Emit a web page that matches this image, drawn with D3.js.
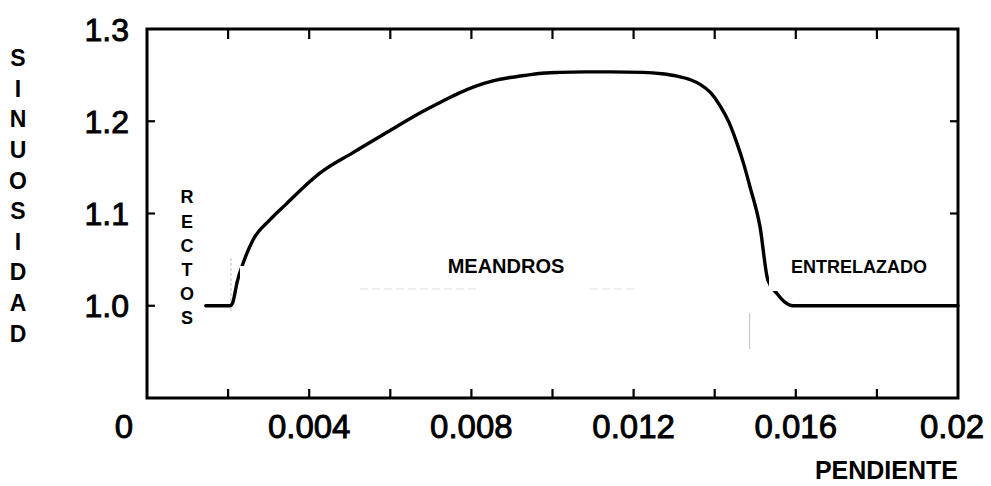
<!DOCTYPE html>
<html>
<head>
<meta charset="utf-8">
<script src="https://cdn.jsdelivr.net/npm/d3@7"></script>
<style>
  html, body { margin: 0; padding: 0; background: #fff; }
  svg { display: block; }
  text { font-family: "Liberation Sans", Arial, Helvetica, sans-serif; fill: #000; }
</style>
</head>
<body>
<svg id="chart" width="991" height="486"></svg>
<script>
// ---- data ----
const slope = [0.00145, 0.00205, 0.00212, 0.00217, 0.00222, 0.00237, 0.00261, 0.00303, 0.00345,
  0.00385, 0.00427, 0.00508, 0.00592, 0.00673, 0.00730, 0.00772, 0.00811, 0.00853, 0.00895, 0.00937,
  0.00981, 0.01018, 0.01080, 0.01142, 0.01223, 0.01270, 0.01307, 0.01340, 0.01364, 0.01390,
  0.01413, 0.01435, 0.01455, 0.01472, 0.01487, 0.01512, 0.01531, 0.01554, 0.01573,
  0.01593, 0.01700, 0.02];
const sinuosity = [1.000, 1.000, 1.004, 1.014, 1.025, 1.046, 1.071, 1.093, 1.111,
  1.128, 1.144, 1.166, 1.188, 1.209, 1.222, 1.231, 1.238, 1.2437, 1.2474, 1.250,
  1.2523, 1.253, 1.2535, 1.2535, 1.253, 1.2515, 1.249, 1.245, 1.240, 1.231,
  1.217, 1.199, 1.176, 1.153, 1.129, 1.085, 1.028, 1.013, 1.004,
  1.000, 1.000, 1.000];
const xTickValues = [0, 0.002, 0.004, 0.006, 0.008, 0.010, 0.012, 0.014, 0.016, 0.018, 0.02];
const xLabelValues = [0, 0.004, 0.008, 0.012, 0.016, 0.02];
const yTickValues = [1.0, 1.1, 1.2, 1.3];
const yLabel = "SINUOSIDAD";
const xLabel = "PENDIENTE";
const regimeNames = ["RECTOS", "MEANDROS", "ENTRELAZADO"];

// ---- layout ----
const svg = d3.select("#chart");
const margin = { left: 147, top: 29, right: 33, bottom: 88 };
const W = 991, H = 486;
const x = d3.scaleLinear().domain([0, 0.02]).range([margin.left, W - margin.right]);
const y = d3.scaleLinear().domain([0.9, 1.3]).range([H - margin.bottom, margin.top]);
const x0 = x.range()[0], x1 = x.range()[1], y0 = y.range()[0], y1 = y.range()[1];

// faint scan artifacts (dashed divider lines)
const faint = svg.append("g").attr("stroke", "#c8c8c8").attr("stroke-width", 1.2).attr("fill", "none");
faint.append("line").attr("x1", x(0.00207)).attr("x2", x(0.00207)).attr("y1", 258).attr("y2", 312).attr("stroke-dasharray", "3,2");
faint.append("line").attr("x1", x(0.01486)).attr("x2", x(0.01486)).attr("y1", 313).attr("y2", 349);
faint.append("line").attr("x1", 360).attr("x2", 480).attr("y1", 289).attr("y2", 289).attr("stroke-dasharray", "8,4").attr("stroke", "#e0e0e0");
faint.append("line").attr("x1", 590).attr("x2", 637).attr("y1", 289).attr("y2", 289).attr("stroke-dasharray", "8,4").attr("stroke", "#e0e0e0");

// ---- curve ----
const pts = slope.map((s, i) => [s, sinuosity[i]]);
const line = d3.line().x(d => x(d[0])).y(d => y(d[1])).curve(d3.curveMonotoneX);
svg.append("path").datum(pts).attr("d", line)
  .attr("fill", "none").attr("stroke", "#000").attr("stroke-width", 3.4)
  .attr("stroke-linejoin", "round").attr("stroke-linecap", "round");

// ---- white label boxes (they cut the curve as in the reference) ----
svg.append("rect").attr("x", 240).attr("y", 266).attr("width", 4).attr("height", 20).attr("fill", "#fff");
svg.append("rect").attr("x", 769).attr("y", 250).attr("width", 180).attr("height", 41).attr("fill", "#fff");

// ---- frame ----
svg.append("rect").attr("x", x0).attr("y", y1).attr("width", x1 - x0).attr("height", y0 - y1)
  .attr("fill", "none").attr("stroke", "#000").attr("stroke-width", 3);

// ---- ticks (inward, on all four sides) ----
const tk = svg.append("g").attr("stroke", "#000").attr("stroke-width", 2.2);
xTickValues.slice(1, -1).forEach(v => {
  tk.append("line").attr("x1", x(v)).attr("x2", x(v)).attr("y1", y0).attr("y2", y0 - 9);
  tk.append("line").attr("x1", x(v)).attr("x2", x(v)).attr("y1", y1).attr("y2", y1 + 10);
});
yTickValues.slice(0, -1).forEach(v => {
  tk.append("line").attr("x1", x0).attr("x2", x0 + 8).attr("y1", y(v)).attr("y2", y(v));
  tk.append("line").attr("x1", x1).attr("x2", x1 - 8).attr("y1", y(v)).attr("y2", y(v));
});

// ---- tick labels ----
const fmtX = d => d === 0 ? "0" : String(+d.toFixed(3));
const xShift = { 0: -23, 0.02: -6 };
svg.append("g").selectAll("text").data(xLabelValues).join("text")
  .attr("x", d => x(d) + (xShift[d] || 0)).attr("y", 438)
  .attr("text-anchor", "middle").attr("font-size", 33)
  .attr("stroke", "#000").attr("stroke-width", 0.9)
  .text(fmtX);
svg.append("g").selectAll("text").data(yTickValues).join("text")
  .attr("x", 129).attr("y", d => y(d)).attr("dy", "0.36em")
  .attr("text-anchor", "end").attr("font-size", 32)
  .attr("stroke", "#000").attr("stroke-width", 0.9)
  .text(d => d.toFixed(1));

// ---- axis titles ----
const yt = svg.append("text").attr("font-size", 23).attr("font-weight", "bold").attr("text-anchor", "middle");
yLabel.split("").forEach((ch, i) => {
  yt.append("tspan").attr("x", 18).attr("y", 58 + i * 30.6).attr("dy", "0.36em").text(ch);
});
svg.append("text").attr("x", 958).attr("y", 479).attr("text-anchor", "end")
  .attr("font-size", 25).attr("font-weight", "bold").text(xLabel);

// ---- regime labels ----
const rt = svg.append("text").attr("font-size", 18).attr("font-weight", "bold").attr("text-anchor", "middle");
regimeNames[0].split("").forEach((ch, i) => {
  rt.append("tspan").attr("x", 187).attr("y", 197 + i * 24.2).attr("dy", "0.36em").text(ch);
});
svg.append("text").attr("x", 506).attr("y", 273).attr("text-anchor", "middle")
  .attr("font-size", 20).attr("font-weight", "bold").text(regimeNames[1]);
svg.append("text").attr("x", 859).attr("y", 273).attr("text-anchor", "middle")
  .attr("font-size", 18).attr("font-weight", "bold").text(regimeNames[2]);
</script>
</body>
</html>
